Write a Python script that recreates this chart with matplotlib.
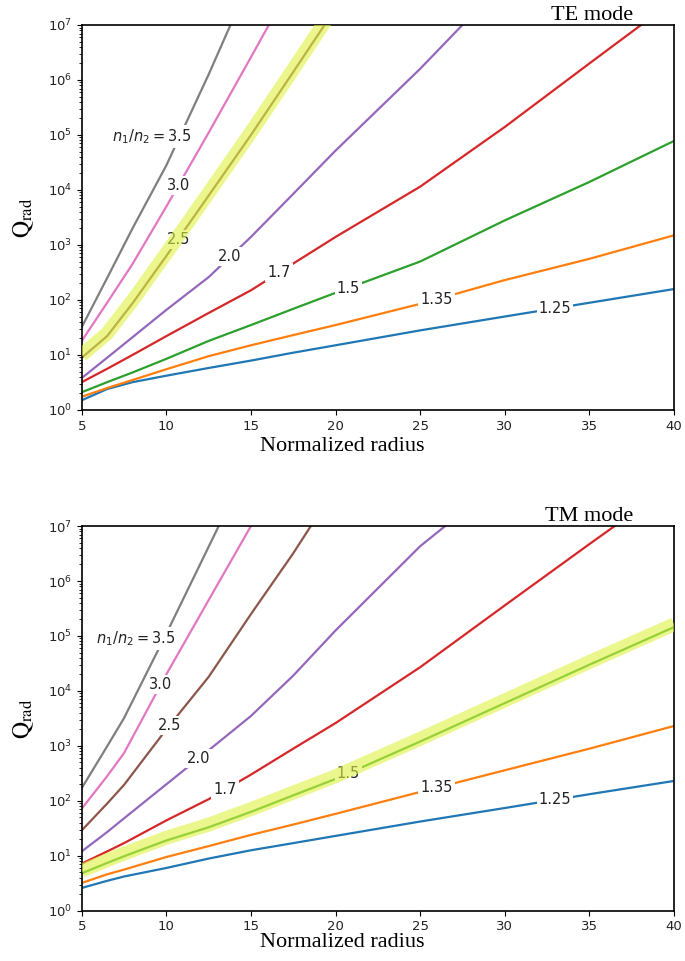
import matplotlib
matplotlib.use("Agg")
import matplotlib.pyplot as plt
import numpy as np

nan = np.nan

# index contrast n1/n2 for every curve
ratios = [1.25, 1.35, 1.5, 1.7, 2.0, 2.5, 3.0, 3.5]
ratio_labels = ['1.25', '1.35', '1.5', '1.7', '2.0', '2.5', '3.0', r'$n_1/n_2 = 3.5$']
colors = ['tab:blue', 'tab:orange', 'tab:green', 'tab:red',
          'tab:purple', 'tab:brown', 'tab:pink', 'tab:gray']

# TE mode: normalized radius and Q_rad per ratio
te_x = [5, 6.5, 8, 10, 12.5, 15, 17.5, 20, 25, 30, 35, 40]
te_q125 = [1.5, 2.4, 3.2, 4.2, 5.8, 7.9, 11, 15, 28, 50, 89, 158]
te_q135 = [1.74, 2.5, 3.5, 5.5, 9.5, 15, 23, 35, 85, 230, 560, 1500]
te_q150 = [2.1, 3.2, 4.8, 8.5, 18, 35, 69, 135, 500, 2800, 14000, 78000]
te_q170 = [3.2, 5.6, 10, 22, 58, 150, 460, 1400, 11500, 1.4e5, 2e6, 2.8e7]
te_q200 = [3.8, 8.9, 21, 66, 260, 1400, 8500, 52000, 1.6e6, 6.3e7, nan, nan]
te_q250 = [8.9, 22, 87, 630, 7900, 1e5, 1.4e6, 2e7, nan, nan, nan, nan]
te_q300 = [18, 89, 450, 5000, 1.1e5, 2.6e6, 6.3e7, nan, nan, nan, nan, nan]
te_q350 = [32, 250, 2000, 28000, 1.26e6, 7e7, nan, nan, nan, nan, nan, nan]
te_label_x = [32.96, 25.97, 20.75, 16.67, 13.76, 10.7, 10.7, 10.8]

# TM mode
tm_x = [5, 6.5, 7.5, 10, 12.5, 15, 17.5, 20, 25, 30, 35, 40]
tm_q125 = [2.6, 3.5, 4.2, 6.0, 8.9, 12.6, 17, 23, 42, 74, 132, 230]
tm_q135 = [3.2, 4.6, 5.6, 9.5, 15, 24, 37, 58, 145, 360, 890, 2300]
tm_q150 = [4.8, 7.4, 9.8, 19, 33, 63, 126, 250, 1200, 6000, 30000, 1.45e5]
tm_q170 = [7.2, 12, 17, 44, 107, 300, 890, 2600, 27000, 3.6e5, 4.7e6, 5.9e7]
tm_q200 = [12, 27, 48, 200, 830, 3500, 19000, 1.26e5, 4.3e6, 7.5e7, nan, nan]
tm_q250 = [29, 89, 195, 2000, 18000, 2.5e5, 3.2e6, 5e7, nan, nan, nan, nan]
tm_q300 = [72, 280, 740, 20000, 4.5e5, 1e7, 2e8, nan, nan, nan, nan, nan]
tm_q350 = [170, 980, 3200, 1.1e5, 4.2e6, 1.6e8, nan, nan, nan, nan, nan, nan]
tm_label_x = [32.96, 25.97, 20.75, 13.47, 11.89, 10.2, 9.68, 9.85]

te_series = [te_q125, te_q135, te_q150, te_q170, te_q200, te_q250, te_q300, te_q350]
tm_series = [tm_q125, tm_q135, tm_q150, tm_q170, tm_q200, tm_q250, tm_q300, tm_q350]


def draw_panel(ax, x, series, label_x, mode, hl_index, xlabel_y):
    x = np.array(x, dtype=float)
    for i, q in enumerate(series):
        q = np.array(q, dtype=float)
        ax.plot(x, q, color=colors[i], lw=1.6, zorder=2)
        # inline label sitting on the curve
        ok = ~np.isnan(q)
        ly = 10 ** np.interp(label_x[i], x[ok], np.log10(q[ok]))
        if i == len(series) - 1:
            ax.annotate(ratio_labels[i], xy=(label_x[i], ly), xytext=(8, 0),
                        textcoords='offset points', ha='right', va='center',
                        fontsize=10.5, color='#222222', zorder=3,
                        bbox=dict(facecolor='white', edgecolor='none', pad=1.5))
        else:
            ax.text(label_x[i], ly, ratio_labels[i], ha='center', va='center',
                    fontsize=10.5, color='#222222', zorder=3,
                    bbox=dict(facecolor='white', edgecolor='none', pad=1.5))

    # yellow marker-pen highlight over one curve
    q_hl = np.array(series[hl_index], dtype=float)
    ax.plot(x, q_hl * 1.12, color=(0.87, 0.95, 0.25), alpha=0.6, lw=10,
            solid_capstyle='butt', zorder=4)

    ax.set_yscale('log')
    ax.set_xlim(5, 40)
    ax.set_ylim(1, 1e7)
    ax.set_xticks([5, 10, 15, 20, 25, 30, 35, 40])
    ax.tick_params(labelsize=9.5, labelcolor='#222222')
    for s in ax.spines.values():
        s.set_linewidth(1.2)

    ax.set_xlabel('Normalized radius', fontsize=16, family='Liberation Serif')
    ax.xaxis.set_label_coords(0.44, xlabel_y)
    ax.set_ylabel(r'$\mathrm{Q}_{\mathrm{rad}}$', fontsize=17, math_fontfamily='stix')
    ax.yaxis.set_label_coords(-0.078, 0.5)
    ax.text(0.931, 1.013, mode, transform=ax.transAxes, ha='right', va='baseline',
            fontsize=16, family='Liberation Serif')


fig = plt.figure(figsize=(6.85, 9.61), dpi=100)
ax_te = fig.add_axes([0.1193, 0.5734, 0.8647, 0.4006])
ax_tm = fig.add_axes([0.1193, 0.0523, 0.8647, 0.4003])

draw_panel(ax_te, te_x, te_series, te_label_x, 'TE mode', hl_index=5, xlabel_y=-0.07)
draw_panel(ax_tm, tm_x, tm_series, tm_label_x, 'TM mode', hl_index=2, xlabel_y=-0.058)

fig.savefig('out.png', dpi=100)
